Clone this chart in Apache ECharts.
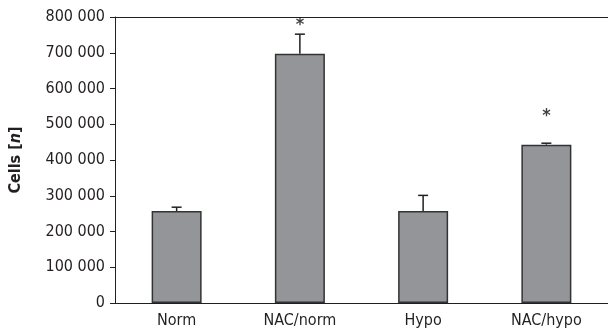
<!DOCTYPE html>
<html><head><meta charset="utf-8">
<script src="https://cdn.jsdelivr.net/npm/echarts@6/dist/echarts.min.js"></script>
<style>html,body{margin:0;padding:0;background:#fff}#c{width:608px;height:329px}</style>
</head><body><div id="c"></div>
<script>
var categories = ['Norm', 'NAC/norm', 'Hypo', 'NAC/hypo'];
var values = [257000, 697000, 257000, 443000];
var errorTop = [268000, 752000, 301000, 447000];
var sigMarks = ['', '*', '', '*'];
var sigLevel = [null, 778000, null, 521000];
var yTicks = [0, 100000, 200000, 300000, 400000, 500000, 600000, 700000, 800000];

var FONT = 'DejaVu Sans Condensed';
var TXT = '#231f20';
var chart = echarts.init(document.getElementById('c'), null, {renderer: 'canvas'});
function fmt(v){ return String(v).replace(/\B(?=(\d{3})+(?!\d))/g, ' '); }
chart.setOption({
  animation: false,
  grid: {left: 114, top: 17, width: 498, bottom: 26},
  xAxis: [{
    type: 'category', data: categories,
    axisLine: {lineStyle: {color: '#231f20', width: 1}},
    axisTick: {show: false},
    axisLabel: {color: TXT, fontFamily: FONT, fontSize: 16, margin: 10}
  }, {
    type: 'category', data: categories, position: 'top',
    axisLine: {show: true, lineStyle: {color: '#231f20', width: 1}},
    axisTick: {show: false}, axisLabel: {show: false}
  }],
  yAxis: {
    type: 'value', min: yTicks[0], max: yTicks[yTicks.length - 1], interval: yTicks[1] - yTicks[0],
    axisLine: {show: true, lineStyle: {color: '#231f20', width: 1}},
    axisTick: {show: true, length: 5, lineStyle: {color: '#231f20'}},
    splitLine: {show: false},
    axisLabel: {color: TXT, fontFamily: FONT, fontSize: 16, margin: 10, formatter: fmt},
    name: '{b|Cells [}{i|n}{b|]}',
    nameLocation: 'middle', nameGap: 91, nameRotate: 90,
    nameTextStyle: {rich: {
      b: {fontFamily: FONT, fontWeight: 'bold', fontSize: 16, color: TXT},
      i: {fontFamily: FONT, fontWeight: 'bold', fontStyle: 'italic', fontSize: 16, color: TXT}
    }}
  },
  series: [{
    type: 'bar', data: values, barWidth: 50,
    itemStyle: {color: '#939598', borderColor: '#333333', borderWidth: 1.5}
  }, {
    type: 'custom', z: 1,
    data: categories.map(function(c, i){ return [i, values[i], errorTop[i]]; }),
    renderItem: function(params, api){
      var x = api.coord([api.value(0), api.value(1)]);
      var t = api.coord([api.value(0), api.value(2)]);
      var hw = 5;
      return {type: 'group', children: [
        {type: 'line', shape: {x1: x[0], y1: x[1], x2: t[0], y2: t[1]}, style: {stroke: '#231f20', lineWidth: 1.5}},
        {type: 'line', shape: {x1: t[0] - hw, y1: t[1], x2: t[0] + hw, y2: t[1]}, style: {stroke: '#231f20', lineWidth: 1.5}}
      ]};
    }
  }, {
    type: 'scatter', symbolSize: 0,
    data: categories.map(function(c, i){ return sigLevel[i] == null ? null : [i, sigLevel[i]]; }),
    label: {show: true, position: 'inside', color: '#111', fontFamily: FONT, fontWeight: 'bold', fontSize: 18,
      formatter: function(p){ return sigMarks[p.dataIndex]; }}
  }]
});
</script></body></html>
